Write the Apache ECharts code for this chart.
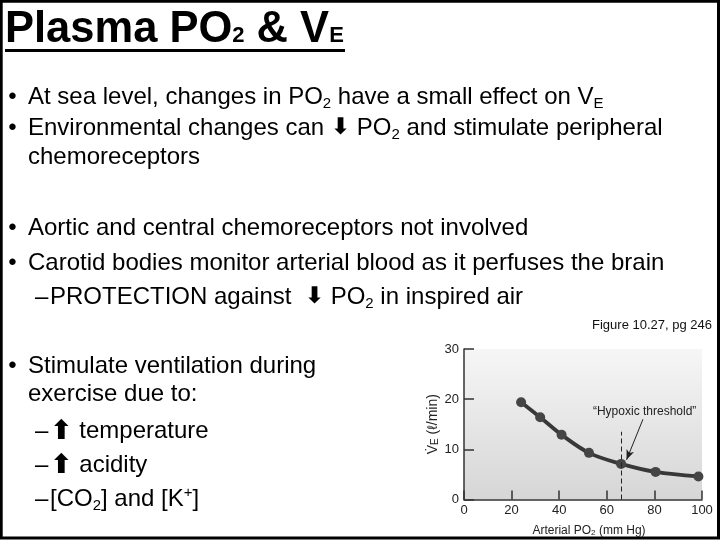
<!DOCTYPE html>
<html>
<head>
<meta charset="utf-8">
<title>Plasma PO2 &amp; VE</title>
<script src="https://cdn.jsdelivr.net/npm/echarts@6/dist/echarts.min.js"></script>
<style>
    html, body { margin: 0; padding: 0; background: #fff; }
    #main { width: 720px; height: 540px; }
</style>
</head>
<body>
<div id="main"></div>
<script>
// --- chart data ---
const po2 = [24, 32, 41, 52.5, 66, 80.5, 98.5];      // arterial PO2, mm Hg
const ve = [19.4, 16.4, 12.9, 9.3, 7.1, 5.5, 4.6];   // ventilation, l/min
const xTicks = [0, 20, 40, 60, 80, 100];
const yTicks = [0, 10, 20, 30];
const thresholdPO2 = 66;
const thresholdLineTop = 13.5;
const calloutText = '\u201CHypoxic threshold\u201D';
const calloutAt = [75.9, 17.5];
const calloutArrow = [[75.2, 16.0], [68.3, 7.9]];

// --- slide text ---
const slideTitle = 'Plasma PO{sm|2} & V{sm|E}';
const slideLines = [
    { kind: 'bullet', text: 'At sea level, changes in PO{sub|2} have a small effect on V{sub|E}' },
    { kind: 'bullet', text: 'Environmental changes can {dn|\u2B07} PO{sub|2} and stimulate peripheral' },
    { kind: 'cont',   text: 'chemoreceptors' },
    { kind: 'bullet', text: 'Aortic and central chemoreceptors not involved' },
    { kind: 'bullet', text: 'Carotid bodies monitor arterial blood as it perfuses the brain' },
    { kind: 'dash',   text: 'PROTECTION against  {dn|\u2B07} PO{sub|2} in inspired air' },
    { kind: 'bullet', text: 'Stimulate ventilation during' },
    { kind: 'cont',   text: 'exercise due to:' },
    { kind: 'dash',   text: '{up|\u2B06} temperature' },
    { kind: 'dash',   text: '{up|\u2B06} acidity' },
    { kind: 'dash',   text: '[CO{sub|2}] and [K{sup|+}]' }
];
const figureCaption = 'Figure 10.27, pg 246';
const xAxisName = 'Arterial PO{s|2} (mm Hg)';
const yAxisName = 'V\u0307{s|E} (\u2113/min)';

// --- layout ---
const FONT = "'Liberation Sans', Arial, sans-serif";
const lineBaselines = [105, 136, 165, 236, 271, 305, 374, 402, 439, 473, 507];

const chart = echarts.init(document.getElementById('main'));

const bodyRich = {
    sub: { fontSize: 15, lineHeight: 15, verticalAlign: 'bottom', fontFamily: FONT, fill: '#000' },
    sup: { fontSize: 15, lineHeight: 15, verticalAlign: 'top', fontFamily: FONT, fill: '#000' },
    up: { fontSize: 27, lineHeight: 28, fontWeight: 'bold', fontFamily: 'DejaVu Sans', fill: '#000' },
    dn: { fontSize: 23, lineHeight: 28, fontWeight: 'bold', fontFamily: 'DejaVu Sans', fill: '#000' }
};

const textEls = [];
slideLines.forEach((line, i) => {
    const top = lineBaselines[i] - 21.5;
    const textX = line.kind === 'dash' ? 50 : 28;
    if (line.kind === 'bullet') {
        textEls.push({
            type: 'text',
            style: { x: 8.3, y: top, text: '\u2022', fontSize: 24, fontFamily: FONT, fill: '#000', lineHeight: 28, verticalAlign: 'top' }
        });
    }
    if (line.kind === 'dash') {
        textEls.push({
            type: 'text',
            style: { x: 35, y: top, text: '\u2013', fontSize: 24, fontFamily: FONT, fill: '#000', lineHeight: 28, verticalAlign: 'top' }
        });
    }
    textEls.push({
        type: 'text',
        style: {
            x: textX, y: top, text: line.text,
            fontSize: 24, fontFamily: FONT, fill: '#000',
            lineHeight: 28, verticalAlign: 'top',
            rich: bodyRich
        }
    });
});

const option = {
    animation: false,
    backgroundColor: '#fff',
    textStyle: { fontFamily: FONT },
    grid: {
        left: 464, right: 18, top: 349, bottom: 40.5,
        show: true, borderWidth: 0,
        backgroundColor: new echarts.graphic.LinearGradient(0, 0, 0, 1, [
            { offset: 0, color: '#f6f6f6' },
            { offset: 1, color: '#d6d6d6' }
        ])
    },
    xAxis: {
        type: 'value',
        min: xTicks[0], max: xTicks[xTicks.length - 1], interval: xTicks[1] - xTicks[0],
        axisLine: { show: true, lineStyle: { color: '#333', width: 1.5 } },
        axisTick: { show: true, inside: true, length: 9, lineStyle: { color: '#333', width: 1.5 } },
        splitLine: { show: false },
        axisLabel: { color: '#222', fontSize: 13, margin: 4, fontFamily: FONT },
        name: xAxisName,
        nameLocation: 'middle',
        nameGap: 25,
        nameTextStyle: {
            color: '#222', fontSize: 12, fontFamily: FONT, padding: [0, 0, 0, 12],
            rich: { s: { fontSize: 8, lineHeight: 8, verticalAlign: 'bottom', color: '#222', fontFamily: FONT } }
        }
    },
    yAxis: {
        type: 'value',
        min: yTicks[0], max: yTicks[yTicks.length - 1], interval: yTicks[1] - yTicks[0],
        axisLine: { show: true, lineStyle: { color: '#333', width: 1.5 } },
        axisTick: { show: true, inside: true, length: 10, lineStyle: { color: '#333', width: 1.5 } },
        splitLine: { show: false },
        axisLabel: { color: '#222', fontSize: 13, margin: 5, fontFamily: FONT },
        name: yAxisName,
        nameLocation: 'middle',
        nameRotate: 90,
        nameGap: 21,
        nameTextStyle: {
            color: '#222', fontSize: 14, fontFamily: FONT,
            rich: { s: { fontSize: 10, lineHeight: 10, verticalAlign: 'bottom', color: '#222', fontFamily: FONT } }
        }
    },
    series: [{
        type: 'line',
        data: po2.map((x, i) => [x, ve[i]]),
        smooth: 0.35,
        symbol: 'circle',
        symbolSize: 10,
        lineStyle: { color: '#383838', width: 3.8 },
        itemStyle: { color: '#454545' },
        z: 3,
        markLine: {
            silent: true,
            animation: false,
            label: { show: false },
            data: [
                [
                    { coord: [thresholdPO2, 0], symbol: 'none', lineStyle: { type: [5, 3], color: '#222', width: 1 } },
                    { coord: [thresholdPO2, thresholdLineTop], symbol: 'none' }
                ],
                [
                    { coord: calloutArrow[0], symbol: 'none', lineStyle: { type: 'solid', color: '#222', width: 1 } },
                    { coord: calloutArrow[1], symbol: 'arrow', symbolSize: [6, 10] }
                ]
            ]
        },
        markPoint: {
            silent: true,
            animation: false,
            symbol: 'circle',
            symbolSize: 1,
            itemStyle: { color: 'rgba(0,0,0,0)' },
            label: { show: true, position: 'inside', color: '#222', fontSize: 12, fontFamily: FONT, formatter: calloutText },
            data: [{ coord: calloutAt }]
        }
    }],
    graphic: {
        elements: [
            // slide frame
            {
                type: 'rect',
                shape: { x: 1.2, y: 1.2, width: 717.3, height: 536.8 },
                style: { fill: 'none', stroke: '#000', lineWidth: 3 },
                silent: true
            },
            // title
            {
                type: 'text',
                style: {
                    x: 5, y: 5.5, text: slideTitle,
                    fontSize: 43.5, fontWeight: 'bold', fontFamily: FONT, fill: '#000',
                    lineHeight: 48, verticalAlign: 'top',
                    rich: {
                        sm: { fontSize: 22, fontWeight: 'bold', fontFamily: FONT, fill: '#000', lineHeight: 22, verticalAlign: 'bottom', padding: [0, 0, 7, 0] }
                    }
                }
            },
            {
                type: 'line',
                shape: { x1: 5, y1: 50.5, x2: 345, y2: 50.5 },
                style: { stroke: '#000', lineWidth: 3 }
            },
            // figure caption
            {
                type: 'text',
                style: { x: 712, y: 325, text: figureCaption, fontSize: 13, fontFamily: FONT, fill: '#111', align: 'right', verticalAlign: 'middle' }
            }
        ].concat(textEls)
    }
};

chart.setOption(option);
</script>
</body>
</html>
